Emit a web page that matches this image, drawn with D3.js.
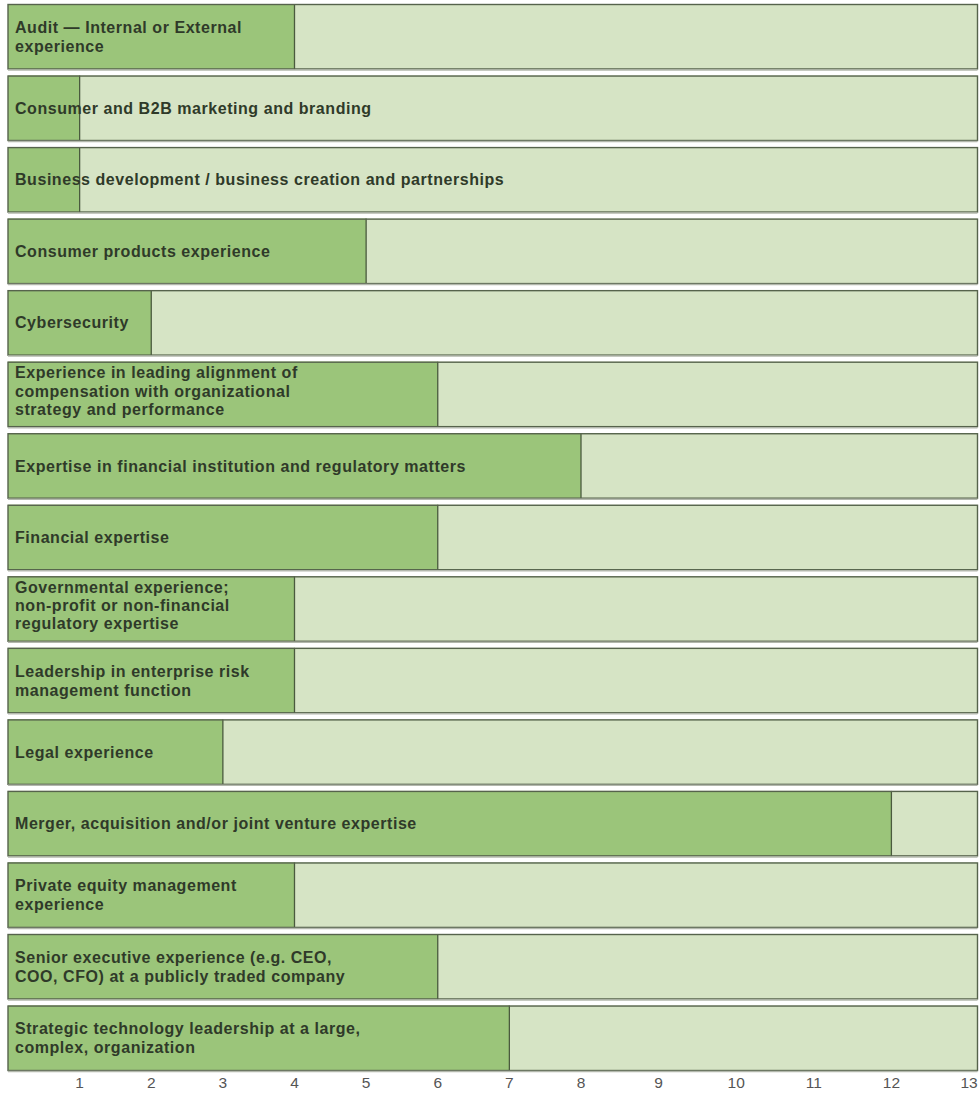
<!DOCTYPE html>
<html>
<head>
<meta charset="utf-8">
<script src="https://cdn.jsdelivr.net/npm/d3@7"></script>
<style>
  body { margin: 0; background: #fff; }
  svg { display: block; font-family: "Liberation Sans", Arial, sans-serif; }
</style>
</head>
<body>
<svg id="grafiek" width="980" height="1095"></svg>
<script>
// labels per rij (al opgedeeld in regels zoals in het origineel)
const skills = [
  ["Audit \u2014 Internal or External", "experience"],
  ["Consumer and B2B marketing and branding"],
  ["Business development / business creation and partnerships"],
  ["Consumer products experience"],
  ["Cybersecurity"],
  ["Experience in leading alignment of", "compensation with organizational", "strategy and performance"],
  ["Expertise in financial institution and regulatory matters"],
  ["Financial expertise"],
  ["Governmental experience;", "non-profit or non-financial", "regulatory expertise"],
  ["Leadership in enterprise risk", "management function"],
  ["Legal experience"],
  ["Merger, acquisition and/or joint venture expertise"],
  ["Private equity management", "experience"],
  ["Senior executive experience (e.g. CEO,", "COO, CFO) at a publicly traded company"],
  ["Strategic technology leadership at a large,", "complex, organization"]
];

// aantal bestuurders per skill
const counts = [4, 1, 1, 5, 2, 6, 8, 6, 4, 4, 3, 12, 4, 6, 7];

// as-labels
const ticks = [1, 2, 3, 4, 5, 6, 7, 8, 9, 10, 11, 12, 13];

const svg = d3.select('#grafiek');

// schalen (origineel is niet helemaal lineair, daarom een knik bij 8)
const x = d3.scaleLinear()
    .domain([0, 8, 13])
    .range([8, 581, 969]);

const y = d3.scaleBand()
    .domain(d3.range(skills.length))
    .range([4, 1071])
    .paddingInner(0.085)
    .paddingOuter(0);

const rows = svg.selectAll('g.row')
    .data(skills.map((s, i) => ({ lines: s, value: counts[i], i: i })))
    .join('g')
    .attr('class', 'row')
    .attr('transform', d => 'translate(0,' + y(d.i) + ')');

const h = y.bandwidth();

// lichte achtergrond
rows.append('rect')
    .attr('x', x(0))
    .attr('y', 0)
    .attr('width', 977.5 - x(0))
    .attr('height', h)
    .attr('fill', '#d6e4c5');

// donkere balk
rows.append('rect')
    .attr('x', x(0))
    .attr('y', 0)
    .attr('width', d => x(d.value) - x(0))
    .attr('height', h)
    .attr('fill', '#9bc57a');

// lijn aan het eind van de balk
rows.append('line')
    .attr('x1', d => x(d.value))
    .attr('x2', d => x(d.value))
    .attr('y1', 0)
    .attr('y2', h)
    .attr('stroke', '#4a5a3e')
    .attr('stroke-width', 1.3);

// rand
rows.append('rect')
    .attr('x', x(0))
    .attr('y', 0.5)
    .attr('width', 977.5 - x(0))
    .attr('height', h - 1)
    .attr('fill', 'none')
    .attr('stroke', '#56634c')
    .attr('stroke-width', 1.4);

// grijze schaduw onderaan
rows.append('line')
    .attr('x1', x(0))
    .attr('x2', 977.5)
    .attr('y1', h + 0.5)
    .attr('y2', h + 0.5)
    .attr('stroke', '#b3b8ad')
    .attr('stroke-width', 1.5);

// tekst
rows.each(function (d) {
    const n = d.lines.length;
    const lh = n === 2 ? 19 : 18.3;
    const shift = n === 3 ? -3.5 : 0;
    const start = h / 2 - (n - 1) * lh / 2 + shift;
    d3.select(this).selectAll('text')
        .data(d.lines)
        .join('text')
        .attr('x', 15)
        .attr('y', (t, j) => start + j * lh)
        .attr('dy', '0.35em')
        .attr('font-size', 16)
        .attr('letter-spacing', 0.55)
        .attr('font-weight', 'bold')
        .attr('fill', '#2f3a29')
        .text(t => t);
});

// x-as
svg.append('g')
    .selectAll('text')
    .data(ticks)
    .join('text')
    .attr('x', d => x(d))
    .attr('y', 1083)
    .attr('dy', '0.35em')
    .attr('text-anchor', 'middle')
    .attr('font-size', 15.5)
    .attr('fill', '#555')
    .text(d => d);
</script>
</body>
</html>
